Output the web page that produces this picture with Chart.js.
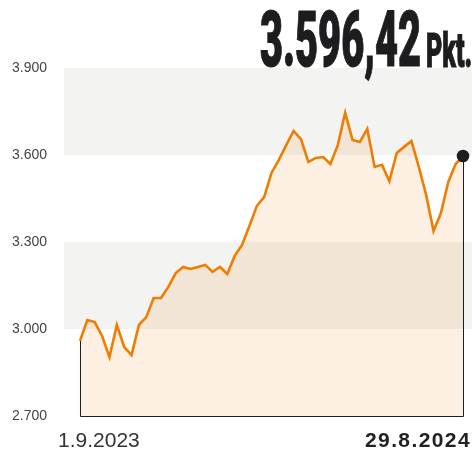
<!DOCTYPE html>
<html lang="de">
<head>
<meta charset="utf-8">
<title>3.596,42 Pkt.</title>
<script src="https://cdn.jsdelivr.net/npm/chart.js@4/dist/chart.umd.min.js"></script>
<style>
  html, body { margin: 0; padding: 0; background: #fff; }
  #wrap { position: relative; width: 472px; height: 453px; overflow: hidden; }
  #chart { position: absolute; left: 0; top: 0; }
  .headline {
    position: absolute;
    font-family: Roboto, "Liberation Sans", sans-serif;
    font-weight: 900;
    color: #1d1d1f;
    line-height: 1;
    white-space: nowrap;
    transform-origin: left top;
    -webkit-text-stroke: 1.2px #1d1d1f;
  }
  #hlValue { left: 260px; top: 2px; font-size: 77px; }
  #hlUnit { left: 426px; top: 27px; font-size: 48px; }
</style>
</head>
<body>
<div id="wrap">
  <canvas id="chart" width="472" height="453"></canvas>
  <div class="headline" id="hlValue">3.596,42</div>
  <div class="headline" id="hlUnit">Pkt.</div>
</div>
<script>
"use strict";

// Wochenwerte 1.9.2023 – 29.8.2024
const values = [
  2959, 3031, 3024, 2976, 2903, 3014, 2938, 2910, 3014, 3041,
  3107, 3107, 3145, 3193, 3214, 3207, 3214, 3221, 3197, 3214,
  3190, 3252, 3290, 3355, 3424, 3455, 3538, 3583, 3634, 3683,
  3655, 3576, 3590, 3593, 3569, 3634, 3745, 3652, 3645, 3690,
  3559, 3566, 3510, 3607, 3628, 3648, 3559, 3462, 3338, 3400,
  3507, 3569, 3596.42,
];
const dateLabels = ["1.9.2023", "29.8.2024"];
const yTicks = [2700, 3000, 3300, 3600, 3900];
const yTickLabels = ["2.700", "3.000", "3.300", "3.600", "3.900"];
const shadedBands = [
  [3000, 3300],
  [3600, 3900],
];

const ORANGE = "rgb(238, 125, 0)";
const INK = "#1d1d1f";

const points = values.map((v, i) => ({ x: i, y: v }));
const last = points.length - 1;

const bandsPlugin = {
  id: "bands",
  beforeDatasetsDraw(chart) {
    const { ctx, chartArea, scales } = chart;
    ctx.save();
    ctx.fillStyle = "#f3f3f1";
    shadedBands.forEach(([lo, hi]) => {
      const top = scales.y.getPixelForValue(hi);
      const bottom = scales.y.getPixelForValue(lo);
      ctx.fillRect(chartArea.left, top, chartArea.right - chartArea.left, bottom - top);
    });
    ctx.restore();
  },
};

const framePlugin = {
  id: "frame",
  afterDatasetsDraw(chart) {
    const { ctx, scales } = chart;
    const x0 = scales.x.getPixelForValue(0);
    const x1 = scales.x.getPixelForValue(last);
    const yBase = scales.y.getPixelForValue(yTicks[0]);
    ctx.save();
    ctx.strokeStyle = INK;
    ctx.lineWidth = 1;
    ctx.beginPath();
    ctx.moveTo(x0 + 0.5, scales.y.getPixelForValue(values[0]));
    ctx.lineTo(x0 + 0.5, yBase + 0.5);
    ctx.lineTo(x1 + 0.5, yBase + 0.5);
    ctx.lineTo(x1 + 0.5, scales.y.getPixelForValue(values[last]));
    ctx.stroke();

    // Endpunkt
    ctx.fillStyle = INK;
    ctx.beginPath();
    ctx.arc(x1, scales.y.getPixelForValue(values[last]), 6.3, 0, Math.PI * 2);
    ctx.fill();
    ctx.restore();
  },
  afterDraw(chart) {
    const { ctx, chartArea, scales } = chart;
    const x0 = scales.x.getPixelForValue(0);
    const baseline = chartArea.bottom + 31;
    ctx.save();
    ctx.fillStyle = "#333";
    ctx.textBaseline = "alphabetic";
    ctx.font = '21px "Liberation Sans", Arial, sans-serif';
    ctx.textAlign = "left";
    ctx.fillText(dateLabels[0], x0 - 22, baseline);
    ctx.fillStyle = "#222";
    ctx.font = 'bold 21px "Liberation Sans", Arial, sans-serif';
    ctx.letterSpacing = "1.4px";
    ctx.textAlign = "right";
    ctx.fillText(dateLabels[1], chartArea.right - 1, baseline);
    ctx.restore();
  },
};

Chart.defaults.font.family = '"Liberation Sans", Arial, sans-serif';
Chart.defaults.color = "#444";

new Chart(document.getElementById("chart"), {
  type: "line",
  data: {
    datasets: [
      {
        data: points,
        borderColor: ORANGE,
        borderWidth: 2.6,
        borderJoinStyle: "miter",
        backgroundColor: "rgba(240, 130, 20, 0.12)",
        fill: { value: yTicks[0] },
        pointRadius: 0,
        tension: 0,
      },
    ],
  },
  options: {
    responsive: false,
    animation: false,
    layout: { padding: { top: 68, right: 0, bottom: 37, left: 0 } },
    plugins: {
      legend: { display: false },
      tooltip: { enabled: false },
    },
    scales: {
      x: {
        type: "linear",
        display: false,
        min: -2.172,
        max: 53.22,
      },
      y: {
        min: yTicks[0],
        max: yTicks[yTicks.length - 1],
        border: { display: false },
        grid: { display: false, drawTicks: false },
        afterFit: (scale) => {
          scale.width = 64;
        },
        afterBuildTicks: (scale) => {
          scale.ticks = yTicks.map((v) => ({ value: v }));
        },
        ticks: {
          padding: 17,
          font: { size: 14 },
          color: "#444",
          callback: (v) => yTickLabels[yTicks.indexOf(v)] ?? "",
        },
      },
    },
  },
  plugins: [bandsPlugin, framePlugin],
});

// Schlagzeile schmal setzen (kondensierte Schrift nachbilden)
function condense(id, targetWidth) {
  const el = document.getElementById(id);
  el.style.display = "inline-block";
  const w = el.getBoundingClientRect().width;
  el.style.transform = `scaleX(${targetWidth / w})`;
}
condense("hlValue", 161);
condense("hlUnit", 46);
</script>
</body>
</html>
